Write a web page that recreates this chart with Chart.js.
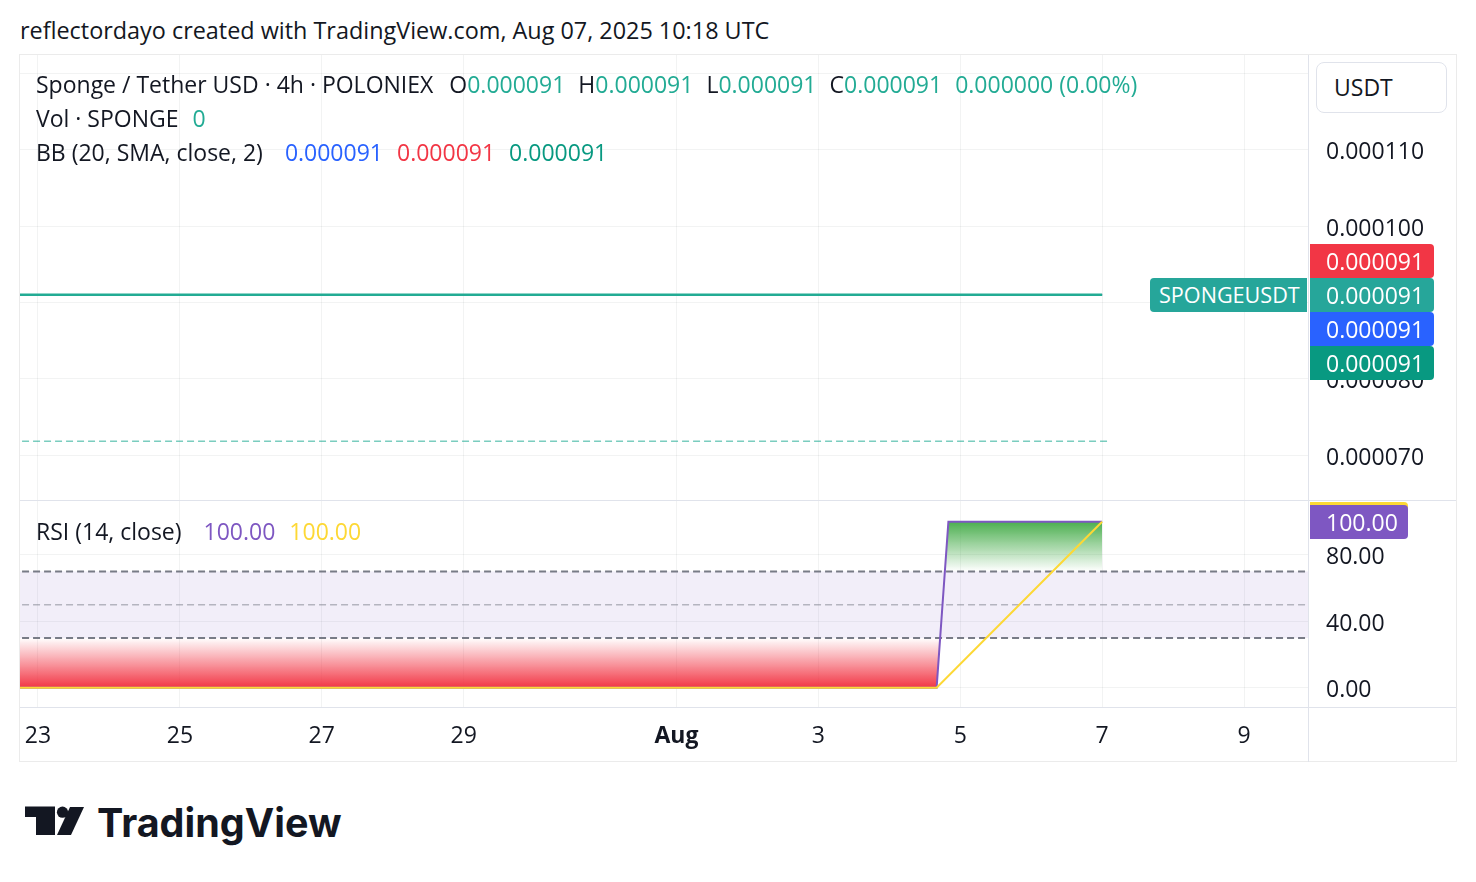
<!DOCTYPE html>
<html><head><meta charset="utf-8">
<script src="https://cdn.jsdelivr.net/npm/chart.js@4.4.1/dist/chart.umd.min.js"></script>
<style>
html,body{margin:0;padding:0;background:#fff}
body{width:1476px;height:882px;position:relative;overflow:hidden;font-family:"Open Sans","Noto Sans",sans-serif;color:#131722}
.abs{position:absolute;white-space:nowrap}
.txt{font-size:23px;line-height:28px}
#frame{left:19px;top:54px;width:1438px;height:708px;border:1px solid #ebebeb;box-sizing:border-box}
.hl{position:absolute;height:1px;background:#e0e3eb}
.vl{position:absolute;width:1px;background:#e0e3eb}
.tag{position:absolute;height:34px;line-height:34px;color:#fff;font-size:23px;box-sizing:border-box}
.g{margin-left:13px}
canvas{position:absolute}
</style>
</head><body>
<div id="frame" class="abs"></div>
<div class="abs txt" style="left:20px;top:16px;font-size:23.4px">reflectordayo created with TradingView.com, Aug 07, 2025 10:18 UTC</div>

<canvas id="main" width="1436" height="445" style="left:20px;top:55px"></canvas>
<canvas id="rsi" width="1436" height="262" style="left:20px;top:500px"></canvas>

<div class="hl" style="left:20px;top:500px;width:1436px"></div>
<div class="hl" style="left:20px;top:707px;width:1436px"></div>
<div class="vl" style="left:1308px;top:707px;height:55px"></div>

<div class="abs txt" style="left:36px;top:70px">Sponge / Tether USD · 4h · POLONIEX<span class="g" style="margin-left:16px">O</span><span style="color:#22ab94">0.000091</span><span class="g">H</span><span style="color:#22ab94">0.000091</span><span class="g">L</span><span style="color:#22ab94">0.000091</span><span class="g">C</span><span style="color:#22ab94">0.000091</span><span class="g" style="color:#22ab94">0.000000 (0.00%)</span></div>
<div class="abs txt" style="left:36px;top:104px">Vol · SPONGE<span class="g" style="color:#22ab94;margin-left:14px">0</span></div>
<div class="abs txt" style="left:36px;top:138px">BB (20, SMA, close, 2)<span class="g" style="color:#2962ff;margin-left:22px">0.000091</span><span class="g" style="color:#f23645;margin-left:14px">0.000091</span><span class="g" style="color:#089981;margin-left:14px">0.000091</span></div>
<div class="abs txt" style="left:36px;top:517px">RSI (14, close)<span class="g" style="color:#7e57c2;margin-left:22px">100.00</span><span class="g" style="color:#fdd835;margin-left:14px">100.00</span></div>

<div class="abs txt" style="left:1316px;top:62px;width:131px;height:51px;border:1px solid #e0e3eb;border-radius:8px;box-sizing:border-box;line-height:49px;padding-left:17px;background:#fff">USDT</div>

<div id="tags"></div>

<svg class="abs" style="left:24px;top:806px" width="62" height="31" viewBox="0 0 62 31">
  <path d="M1 0.5H31V29H12V11H1Z" fill="#131722"/>
  <circle cx="38.5" cy="6.2" r="5.6" fill="#131722"/>
  <path d="M46 1H60L47 29H33Z" fill="#131722"/>
</svg>
<div class="abs" style="left:97px;top:804px;font-family:Inter,sans-serif;font-weight:700;font-size:39.5px;line-height:39px;letter-spacing:0px;color:#131722">TradingView</div>

<script>
// ---- data (x = days since Jul 23, 00:00 UTC; 4h bars) ----
const X_TICKS = [0, 2, 4, 6, 9, 11, 13, 15, 17];
const X_TICK_LABELS = ['23', '25', '27', '29', 'Aug', '3', '5', '7', '9'];
const PRICE_TICKS = [0.00007, 0.00008, 0.00009, 0.0001, 0.00011, 0.00012];
const RSI_TICKS = [0, 40, 80];

const PRICE_T = [-1, 15.0];
const CLOSE = [0.000091, 0.000091];
const BB_BASIS = [0.000091, 0.000091];
const BB_UPPER = [0.000091, 0.000091];
const BB_LOWER = [0.000091, 0.000091];
const DASH_T = [-1, 15.07];
const DASH_V = [0.0000718, 0.0000718];

const RSI_T = [-1, 12.667, 12.833, 15.0];
const RSI_V = [0, 0, 100, 100];
const MA_T = [-1, 12.667, 15.0];
const MA_V = [0, 0, 100];
const LEVEL_T = [-1, 19];
const LEVEL_UP = [70, 70];
const LEVEL_MID = [50, 50];
const LEVEL_LOW = [30, 30];

// ---- view ranges ----
const X_MIN = -0.2537, X_MAX = 17.902;
const P_MIN = 0.00006411, P_MAX = 0.00012243;
const R_MIN = -11.63, R_MAX = 113.07;

const FONT = '"Open Sans", "Noto Sans", sans-serif';
const GRID = 'rgba(42,46,57,0.06)';
Chart.defaults.font.family = FONT;
Chart.defaults.color = '#131722';

const pts = (t, v) => t.map((x, i) => ({x, y: v[i]}));
const noPad = s => { s.paddingTop = 0; s.paddingBottom = 0; s.paddingLeft = 0; s.paddingRight = 0; };

function xScale(labels) {
  return {
    type: 'linear', min: X_MIN, max: X_MAX,
    afterBuildTicks: s => { s.ticks = X_TICKS.map(v => ({value: v})); },
    grid: {color: GRID, drawTicks: false},
    border: {display: false},
    ticks: {
      display: labels, padding: 16, autoSkip: false, maxRotation: 0,
      color: '#131722',
      callback: v => X_TICK_LABELS[X_TICKS.indexOf(v)] ?? '',
      font: ctx => ({family: FONT, size: 23,
        weight: (ctx.tick && X_TICK_LABELS[X_TICKS.indexOf(ctx.tick.value)] === 'Aug') ? 'bold' : 'normal'})
    },
    afterFit: s => { s.height = labels ? 55 : 0; noPad(s); }
  };
}
function yScale(min, max, ticks, fmt) {
  return {
    position: 'right', min, max,
    afterBuildTicks: s => { s.ticks = ticks.map(v => ({value: v})); },
    grid: {color: GRID, drawTicks: false},
    border: {display: true, color: '#e0e3eb'},
    ticks: {padding: 18, labelOffset: 3, color: '#131722', font: {size: 23}, callback: fmt},
    afterFit: s => { s.width = 148; noPad(s); }
  };
}
const baseOpts = {
  responsive: false, animation: false, devicePixelRatio: 1,
  layout: {padding: 0, autoPadding: false},
  plugins: {legend: {display: false}, tooltip: {enabled: false}},
  elements: {point: {radius: 0}, line: {tension: 0}},
};

const mainChart = new Chart(document.getElementById('main'), {
  type: 'line',
  data: {datasets: [
    {label: 'SPONGEUSDT', data: pts(PRICE_T, CLOSE), borderColor: '#22ab94', borderWidth: 2.5, order: 0, fill: false},
    {label: 'BB Upper', data: pts(PRICE_T, BB_UPPER), borderColor: '#f23645', borderWidth: 1, order: 1, fill: false},
    {label: 'BB Basis', data: pts(PRICE_T, BB_BASIS), borderColor: '#2962ff', borderWidth: 1, order: 2, fill: false},
    {label: 'BB Lower', data: pts(PRICE_T, BB_LOWER), borderColor: '#089981', borderWidth: 1, order: 3, fill: false},
    {label: 'Line', data: pts(DASH_T, DASH_V), borderColor: 'rgba(34,171,148,0.6)', borderWidth: 1.5, borderDash: [7, 4], order: 4, fill: false},
  ]},
  options: Object.assign({}, baseOpts, {
    scales: {
      x: xScale(false),
      y: yScale(P_MIN, P_MAX, PRICE_TICKS, v => v.toFixed(6))
    }
  })
});

function vGrad(chart, v0, c0, v1, c1) {
  const y = chart.scales.y;
  if (!chart.chartArea || !y) return 'rgba(0,0,0,0)';
  const p0 = y.getPixelForValue(v0), p1 = y.getPixelForValue(v1);
  if (!isFinite(p0) || !isFinite(p1)) return 'rgba(0,0,0,0)';
  const g = chart.ctx.createLinearGradient(0, p0, 0, p1);
  g.addColorStop(0, c0); g.addColorStop(1, c1);
  return g;
}

const rsiChart = new Chart(document.getElementById('rsi'), {
  type: 'line',
  data: {datasets: [
    {label: 'RSI-based MA', data: pts(MA_T, MA_V), borderColor: '#fdd835', borderWidth: 2, order: 0, fill: false},
    {label: 'RSI', data: pts(RSI_T, RSI_V), borderColor: '#7e57c2', borderWidth: 2, order: 1, fill: false},
    {label: 'Upper Band', data: pts(LEVEL_T, LEVEL_UP), borderColor: '#787b86', borderWidth: 2, borderDash: [7, 4], order: 2, fill: false},
    {label: 'Middle Band', data: pts(LEVEL_T, LEVEL_MID), borderColor: 'rgba(120,123,134,0.5)', borderWidth: 1.5, borderDash: [7, 4], order: 3, fill: false},
    {label: 'Lower Band', data: pts(LEVEL_T, LEVEL_LOW), borderColor: '#787b86', borderWidth: 2, borderDash: [7, 4], order: 4, fill: false},
    {label: 'Oversold fill', data: pts(RSI_T, RSI_V), borderWidth: 0, borderColor: 'rgba(0,0,0,0)', order: 5,
      backgroundColor: c => vGrad(c.chart, 0, 'rgba(242,54,69,1)', 30, 'rgba(242,54,69,0)'),
      fill: {target: {value: 30}, above: 'rgba(0,0,0,0)'}},
    {label: 'Overbought fill', data: pts(RSI_T, RSI_V), borderWidth: 0, borderColor: 'rgba(0,0,0,0)', order: 6,
      backgroundColor: c => vGrad(c.chart, 100, 'rgba(76,175,80,1)', 70, 'rgba(76,175,80,0)'),
      fill: {target: {value: 70}, below: 'rgba(0,0,0,0)'}},
    {label: 'Band fill', data: pts(LEVEL_T, LEVEL_UP), borderWidth: 0, borderColor: 'rgba(0,0,0,0)', order: 7,
      backgroundColor: 'rgba(126,87,194,0.1)',
      fill: {target: {value: 30}, above: 'rgba(126,87,194,0.1)', below: 'rgba(126,87,194,0.1)'}},
  ]},
  options: Object.assign({}, baseOpts, {
    scales: {
      x: xScale(true),
      y: yScale(R_MIN, R_MAX, RSI_TICKS, v => v.toFixed(2))
    }
  })
});

// ---- price-scale tags, placed through the charts' scales ----
(function () {
  const tags = document.getElementById('tags');
  const mainTop = 55, rsiTop = 500, left0 = 20;
  const axisX = left0 + mainChart.chartArea.right;
  const last = a => a[a.length - 1];
  const yc = mainTop + mainChart.scales.y.getPixelForValue(last(CLOSE));
  const stack = [
    {v: last(BB_UPPER), c: '#f23645', off: -34},
    {v: last(CLOSE), c: '#26a69a', off: 0},
    {v: last(BB_BASIS), c: '#2962ff', off: 34},
    {v: last(BB_LOWER), c: '#089981', off: 68},
  ];
  function add(html, css) { const d = document.createElement('div'); d.className = 'tag'; d.innerHTML = html; Object.assign(d.style, css); tags.appendChild(d); }
  stack.forEach(s => add(s.v.toFixed(6), {left: (axisX + 2) + 'px', top: (yc - 17 + s.off) + 'px', width: '124px', paddingLeft: '16px', background: s.c, borderRadius: '0 4px 4px 0'}));
  add('SPONGEUSDT', {left: (axisX - 158) + 'px', top: (yc - 17) + 'px', width: '157px', paddingLeft: '9px', fontSize: '21.6px', background: '#26a69a', borderRadius: '4px 0 0 4px'});
  const ry = rsiTop + rsiChart.scales.y.getPixelForValue(last(RSI_V));
  const my = rsiTop + rsiChart.scales.y.getPixelForValue(last(MA_V));
  const rTop = Math.max(rsiTop + 5, ry - 17);
  add('', {left: (axisX + 2) + 'px', top: Math.max(rsiTop + 2, my - 20) + 'px', width: '98px', height: '34px', background: '#fdd835', borderRadius: '0 4px 4px 0'});
  add(last(RSI_V).toFixed(2), {left: (axisX + 2) + 'px', top: rTop + 'px', width: '98px', paddingLeft: '16px', background: '#7e57c2', borderRadius: '0 4px 4px 0'});
})();
</script>
</body></html>
